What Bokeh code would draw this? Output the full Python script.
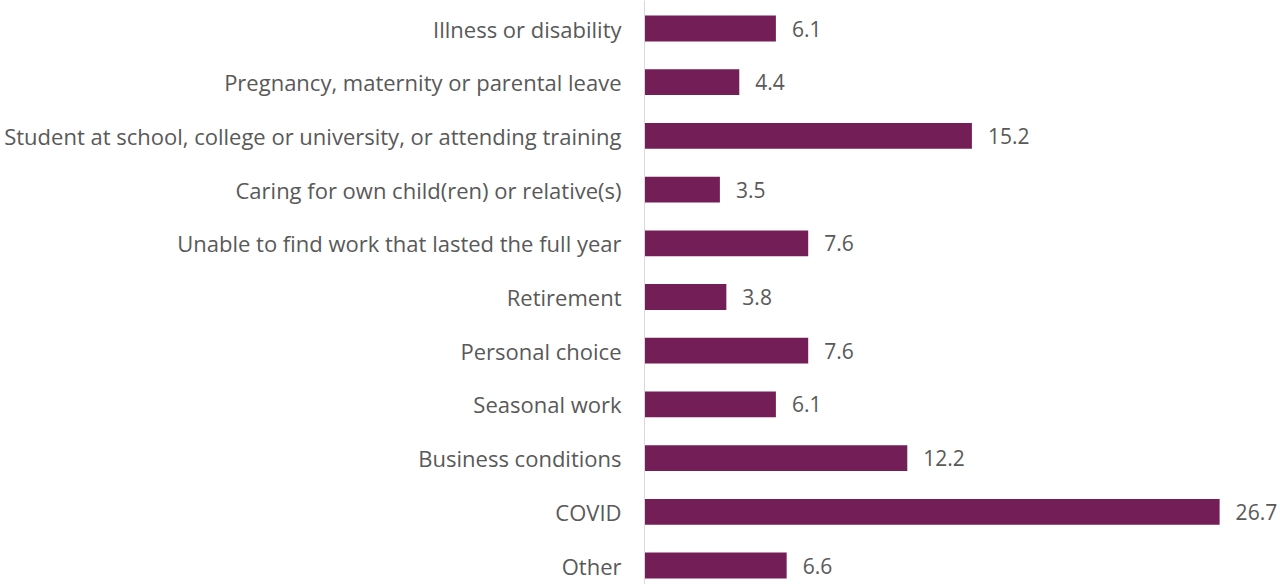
from bokeh.plotting import figure
from bokeh.models import ColumnDataSource, Range1d, FixedTicker
from bokeh.core.properties import value
from bokeh.embed import file_html
from bokeh.resources import INLINE

categories = [
    "Illness or disability",
    "Pregnancy, maternity or parental leave",
    "Student at school, college or university, or attending training",
    "Caring for own child(ren) or relative(s)",
    "Unable to find work that lasted the full year",
    "Retirement",
    "Personal choice",
    "Seasonal work",
    "Business conditions",
    "COVID",
    "Other",
]
values = [6.1, 4.4, 15.2, 3.5, 7.6, 3.8, 7.6, 6.1, 12.2, 26.7, 6.6]

FONT = "Open Sans"
TEXT_COLOR = "#595959"
BAR_COLOR = "#731E57"

ypos = list(range(len(categories)))
source = ColumnDataSource(dict(
    y=ypos,
    v=values,
    label=[f"{v:.1f}" for v in values],
))

W, H = 1280, 584
left_panel = 644
row_px = 53.7
top = -28 / row_px
bottom = top + H / row_px
xmax = (W - left_panel) / 21.54

p = figure(width=W, height=H, output_backend="svg", toolbar_location=None,
           x_range=Range1d(0, xmax), y_range=Range1d(bottom, top),
           min_border_left=left_panel, min_border_right=0,
           min_border_top=0, min_border_bottom=0)

p.hbar(y="y", right="v", left=0, height=0.48, source=source,
       fill_color=BAR_COLOR, line_color=None)

p.text(x="v", y="y", text="label", source=source, x_offset=16,
       text_align="left", text_baseline="middle",
       text_font=value(FONT), text_font_size="21px", text_color=TEXT_COLOR)

p.xaxis.visible = False
p.xgrid.visible = False
p.ygrid.visible = False
p.outline_line_color = None

yax = p.yaxis[0]
yax.ticker = FixedTicker(ticks=ypos)
yax.major_label_overrides = {i: c for i, c in enumerate(categories)}
yax.major_tick_line_color = None
yax.minor_tick_line_color = None
yax.major_tick_out = 0
yax.major_tick_in = 0
yax.major_label_standoff = 23
yax.axis_line_color = "#D9D9D9"
yax.axis_line_width = 1
yax.major_label_text_font = FONT
yax.major_label_text_font_size = "22px"
yax.major_label_text_color = TEXT_COLOR

open("out.html", "w").write(file_html(p, INLINE))
